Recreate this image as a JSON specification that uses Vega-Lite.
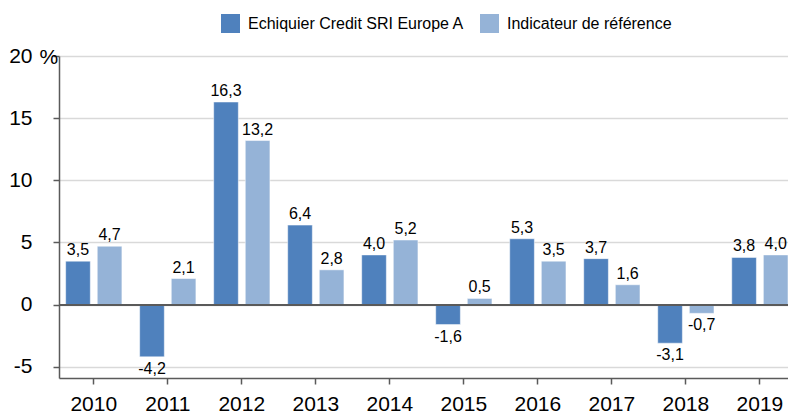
{
  "$schema": "https://vega.github.io/schema/vega-lite/v6.json",
  "autosize": {"type": "none"},
  "padding": {"left": 59, "top": 56, "right": 0, "bottom": 38},
  "width": 729,
  "height": 322,
  "config": {
    "font": "Liberation Sans",
    "view": {"stroke": null},
    "locale": {"number": {"decimal": ",", "thousands": " ", "grouping": [3], "currency": ["", " €"], "minus": "-"}}
  },
  "data": {
    "values": [
      {"year": "2010", "series": "Echiquier Credit SRI Europe A", "value": 3.5},
      {"year": "2010", "series": "Indicateur de référence", "value": 4.7},
      {"year": "2011", "series": "Echiquier Credit SRI Europe A", "value": -4.2},
      {"year": "2011", "series": "Indicateur de référence", "value": 2.1},
      {"year": "2012", "series": "Echiquier Credit SRI Europe A", "value": 16.3},
      {"year": "2012", "series": "Indicateur de référence", "value": 13.2},
      {"year": "2013", "series": "Echiquier Credit SRI Europe A", "value": 6.4},
      {"year": "2013", "series": "Indicateur de référence", "value": 2.8},
      {"year": "2014", "series": "Echiquier Credit SRI Europe A", "value": 4.0},
      {"year": "2014", "series": "Indicateur de référence", "value": 5.2},
      {"year": "2015", "series": "Echiquier Credit SRI Europe A", "value": -1.6},
      {"year": "2015", "series": "Indicateur de référence", "value": 0.5},
      {"year": "2016", "series": "Echiquier Credit SRI Europe A", "value": 5.3},
      {"year": "2016", "series": "Indicateur de référence", "value": 3.5},
      {"year": "2017", "series": "Echiquier Credit SRI Europe A", "value": 3.7},
      {"year": "2017", "series": "Indicateur de référence", "value": 1.6},
      {"year": "2018", "series": "Echiquier Credit SRI Europe A", "value": -3.1},
      {"year": "2018", "series": "Indicateur de référence", "value": -0.7},
      {"year": "2019", "series": "Echiquier Credit SRI Europe A", "value": 3.8},
      {"year": "2019", "series": "Indicateur de référence", "value": 4.0}
    ]
  },
  "encoding": {
    "x": {
      "field": "year", "type": "nominal",
      "scale": {"paddingInner": 0.24, "paddingOuter": 0.045, "align": 1},
      "axis": {
        "title": null, "labelAngle": 0, "labelFontSize": 21, "labelColor": "#000",
        "labelPadding": 9, "domainColor": "#5a5a5a", "domainWidth": 1.5,
        "tickColor": "#5a5a5a", "tickWidth": 1.5, "tickSize": 6, "grid": false
      }
    },
    "xOffset": {"field": "series", "type": "nominal", "scale": {"paddingInner": 0.22}},
    "y": {
      "field": "value", "type": "quantitative",
      "scale": {"domain": [-5.9, 20], "nice": false, "zero": false},
      "axis": {
        "values": [-5, 0, 5, 10, 15, 20], "format": "d",
        "title": "%", "titleAngle": 0, "titleX": -20, "titleY": 1,
        "titleAlign": "left", "titleBaseline": "middle", "titleFontSize": 21,
        "titleFontWeight": "normal", "titleColor": "#000",
        "labelFontSize": 21, "labelColor": "#000", "labelPadding": 21,
        "domainColor": "#5a5a5a", "domainWidth": 1.5,
        "tickColor": "#5a5a5a", "tickWidth": 1.5, "tickSize": 6,
        "gridColor": "#d9d9d9", "gridWidth": 1.5
      }
    }
  },
  "layer": [
    {
      "mark": {"type": "bar", "stroke": "#ffffff", "strokeOpacity": 0.5, "strokeWidth": 1},
      "encoding": {
        "color": {
          "field": "series", "type": "nominal",
          "scale": {"domain": ["Echiquier Credit SRI Europe A", "Indicateur de référence"], "range": ["#4f81bd", "#95b3d7"]},
          "legend": {
            "title": null, "orient": "none", "legendX": 162, "legendY": -42,
            "direction": "horizontal", "columns": 2,
            "symbolType": "square", "symbolSize": 361, "symbolStrokeWidth": 0,
            "labelFontSize": 16, "labelColor": "#000", "labelOffset": 8, "labelLimit": 0,
            "columnPadding": 15, "padding": 0
          }
        }
      }
    },
    {
      "mark": {"type": "rule", "color": "#5a5a5a", "strokeWidth": 1.5},
      "encoding": {"y": {"datum": 0}, "x": null, "xOffset": null}
    },
    {
      "transform": [{"filter": "datum.value >= 0"}],
      "mark": {"type": "text", "baseline": "bottom", "dy": -3, "fontSize": 16, "color": "#000"},
      "encoding": {"text": {"field": "value", "type": "quantitative", "format": ".1f"}}
    },
    {
      "transform": [{"filter": "datum.value < 0"}],
      "mark": {"type": "text", "baseline": "top", "dy": 4, "fontSize": 16, "color": "#000"},
      "encoding": {"text": {"field": "value", "type": "quantitative", "format": ".1f"}}
    }
  ]
}
